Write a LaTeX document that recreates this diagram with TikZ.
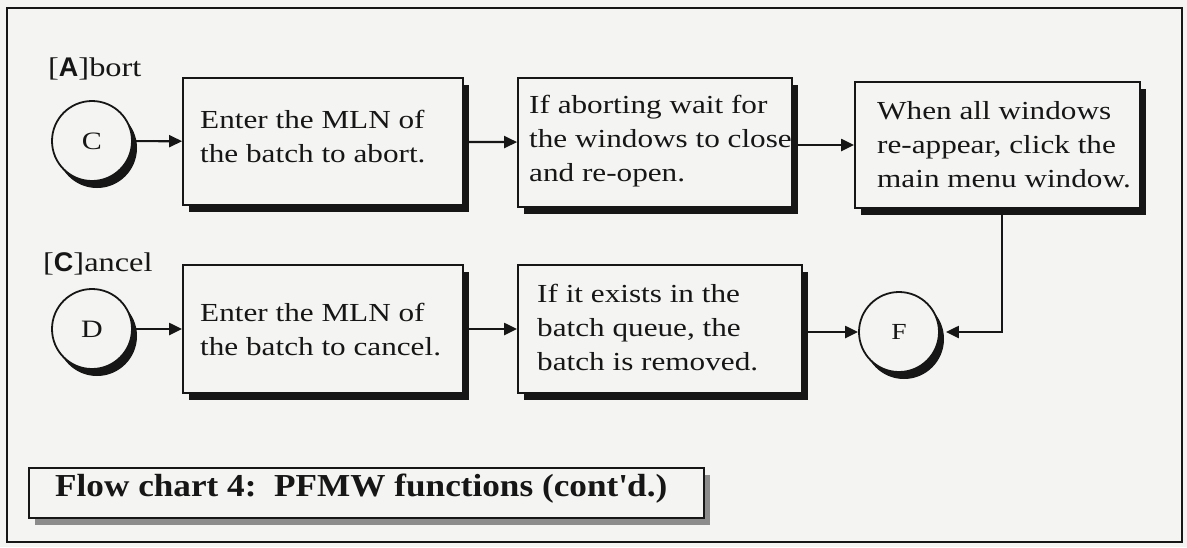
\documentclass[tikz,border=0pt]{standalone}
\usepackage{fontspec}
\setmainfont{Liberation Serif}[FakeStretch=1.2]
\newfontfamily\captionface{Liberation Serif}[FakeStretch=1.1]
\newfontfamily\keyface{Liberation Sans}
\usetikzlibrary{arrows.meta,shadows}
\definecolor{paper}{RGB}{244,244,242}
\definecolor{ink}{RGB}{22,22,22}
\definecolor{halftone}{RGB}{140,140,140}
\tikzset{
  stepbox/.style={draw=ink, line width=1.8pt, fill=paper, rectangle, inner sep=0pt,
    drop shadow={shadow xshift=6pt, shadow yshift=-7pt, fill=ink, opacity=1}},
  steptext/.style={anchor=west, align=left, inner sep=0pt, text=ink,
    font=\fontsize{26}{34}\selectfont},
  connector/.style={draw=ink, circle, line width=1.8pt, fill=paper, inner sep=0pt,
    minimum size=80pt, text=ink,
    drop shadow={shadow xshift=5pt, shadow yshift=-7pt, fill=ink, opacity=1}},
  branchlabel/.style={anchor=base west, inner sep=0pt, text=ink,
    font=\fontsize{27}{34}\selectfont},
  flow/.style={draw=ink, line width=2.2pt, -{Triangle[length=13pt,width=12pt]}},
  capbox/.style={draw=ink, line width=1.8pt, fill=paper, rectangle, inner sep=0pt,
    drop shadow={shadow xshift=6pt, shadow yshift=-7pt, fill=halftone, opacity=1}},
}
\begin{document}
\begin{tikzpicture}[x=1pt,y=-1pt]
\fill[paper] (0,0) rectangle (1187,547);
\useasboundingbox (0,0) rectangle (1187,547);
% outer frame
\draw[ink, line width=1.8pt] (7,8) rectangle (1182,542);

% abort branch
\node[branchlabel] (lblA) at (48,76) {[{\keyface\bfseries A}]bort};
\node[connector, font=\fontsize{25}{30}\selectfont] (C) at (92,141) {C};
\node[stepbox, minimum width=280pt, minimum height=127pt] (b1) at (323,141.5) {};
\node[steptext] (t1) at (200,137) {Enter the MLN of\\the batch to abort.};
\node[stepbox, minimum width=274pt, minimum height=129pt] (b2) at (655,142.5) {};
\node[steptext] (t2) at (529,141.4) {If aborting wait for\\the windows to close\\and re-open.};
\node[stepbox, minimum width=285pt, minimum height=126pt] (b3) at (997.5,145) {};
\node[steptext] (t3) at (877,145) {When all windows\\re-appear, click the\\main menu window.};

% cancel branch
\node[branchlabel] (lblC) at (43,271) {[{\keyface\bfseries C}]ancel};
\node[connector, font=\fontsize{25}{30}\selectfont] (D) at (92,329) {D};
\node[stepbox, minimum width=280pt, minimum height=128pt] (b4) at (323,329) {};
\node[steptext] (t4) at (200,329.7) {Enter the MLN of\\the batch to cancel.};
\node[stepbox, minimum width=284pt, minimum height=128pt] (b5) at (660,329) {};
\node[steptext] (t5) at (537,327.7) {If it exists in the\\batch queue, the\\batch is removed.};
\node[connector, font=\fontsize{23}{28}\selectfont] (F) at (899,332) {F};

% connectors
\draw[flow] (C) -- (b1);
\draw[flow] (b1) -- (b2);
\draw[flow] (b2.east |- b3.west) -- (b3.west);
\draw[flow] (D) -- (b4);
\draw[flow] (b4) -- (b5);
\draw[flow] (b5.east |- F.west) -- (F.west);
\draw[flow] ([xshift=4.5pt]b3.south) |- ([xshift=6pt]F.east);

% caption
\node[capbox, minimum width=675pt, minimum height=50pt] (cap) at (366.5,493) {};
\node[anchor=west, inner sep=0pt, text=ink, font=\captionface\fontsize{32}{38}\selectfont\bfseries]
  (capt) at (55,489) {Flow chart 4:\ \ PFMW functions (cont\textquotesingle d.)};
\end{tikzpicture}
\end{document}
